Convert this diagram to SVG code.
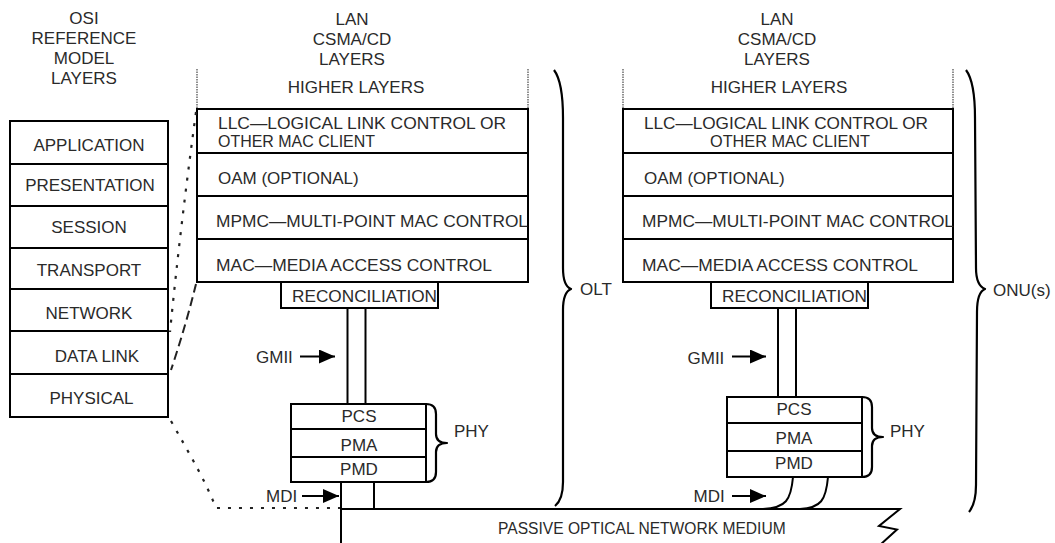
<svg xmlns="http://www.w3.org/2000/svg" width="1055" height="543" viewBox="0 0 1055 543">
  <defs>
    <style>
      text { font-family: "Liberation Sans", Arial, sans-serif; font-size: 17px; fill: #2a2a2a; }
      .mid { text-anchor: middle; }
      .two { font-size: 16px; }
      .box { fill: #ffffff; stroke: #000000; stroke-width: 2; }
      .wire { fill: none; stroke: #000000; stroke-width: 2; }
      .brace { fill: none; stroke: #000000; stroke-width: 2.2; stroke-linejoin: round; }
      .higher { fill: none; stroke: #555555; stroke-width: 1.3; stroke-dasharray: 1.5 1; }
      .dots { fill: none; stroke: #222222; stroke-width: 2.2; stroke-dasharray: 3 8; }
      .dashes { fill: none; stroke: #222222; stroke-width: 2; stroke-dasharray: 9 5; }
      .arrow { fill: none; stroke: #000000; stroke-width: 2; marker-end: url(#head); }
    </style>
    <marker id="head" viewBox="0 0 16 14" refX="16" refY="7" markerWidth="16" markerHeight="14" markerUnits="userSpaceOnUse" orient="auto">
      <path d="M0,0 L16,7 L0,14 z" fill="#000000"/>
    </marker>
  </defs>
  <rect x="0" y="0" width="1055" height="543" fill="#ffffff"/>

  <!-- OSI reference model column -->
  <g id="osi-title">
    <text class="mid" x="84" y="24">OSI</text>
    <text class="mid" x="84" y="44">REFERENCE</text>
    <text class="mid" x="84" y="64">MODEL</text>
    <text class="mid" x="84" y="84">LAYERS</text>
  </g>
  <g id="osi-application"><rect class="box" x="10" y="121" width="158" height="43"/><text class="mid" x="89" y="150.5">APPLICATION</text></g>
  <g id="osi-presentation"><rect class="box" x="10" y="164" width="158" height="42"/><text class="mid" x="90" y="191">PRESENTATION</text></g>
  <g id="osi-session"><rect class="box" x="10" y="206" width="158" height="42"/><text class="mid" x="89" y="233">SESSION</text></g>
  <g id="osi-transport"><rect class="box" x="10" y="248" width="158" height="41"/><text class="mid" x="89" y="276">TRANSPORT</text></g>
  <g id="osi-network"><rect class="box" x="10" y="289" width="158" height="42"/><text class="mid" x="89" y="319">NETWORK</text></g>
  <g id="osi-datalink"><rect class="box" x="10" y="331" width="158" height="43"/><text class="mid" x="97" y="361.5">DATA LINK</text></g>
  <g id="osi-physical"><rect class="box" x="10" y="374" width="158" height="43"/><text class="mid" x="91.5" y="404">PHYSICAL</text></g>

  <!-- OLT side: LAN CSMA/CD layers -->
  <g id="olt-title">
    <text class="mid" x="352" y="25">LAN</text>
    <text class="mid" x="352" y="44.5">CSMA/CD</text>
    <text class="mid" x="352" y="64.5">LAYERS</text>
  </g>
  <g id="olt-higher">
    <line class="higher" x1="197" y1="69" x2="197" y2="109"/>
    <line class="higher" x1="528" y1="69" x2="528" y2="109"/>
    <text class="mid" x="356" y="93">HIGHER LAYERS</text>
  </g>
  <g id="olt-llc"><rect class="box" x="197" y="109" width="331" height="44"/><text class="two" x="218" y="128.5" textLength="288" lengthAdjust="spacingAndGlyphs">LLC—LOGICAL LINK CONTROL OR</text><text class="two" x="218" y="147" textLength="157" lengthAdjust="spacingAndGlyphs">OTHER MAC CLIENT</text></g>
  <g id="olt-oam"><rect class="box" x="197" y="153" width="331" height="43"/><text x="218" y="184">OAM (OPTIONAL)</text></g>
  <g id="olt-mpmc"><rect class="box" x="197" y="196" width="331" height="43"/><text x="216" y="227" textLength="312" lengthAdjust="spacingAndGlyphs">MPMC—MULTI-POINT MAC CONTROL</text></g>
  <g id="olt-mac"><rect class="box" x="197" y="239" width="331" height="43"/><text x="216" y="270.5" textLength="276" lengthAdjust="spacingAndGlyphs">MAC—MEDIA ACCESS CONTROL</text></g>
  <g id="olt-reconciliation"><rect class="box" x="281" y="282" width="157" height="26"/><text x="292" y="301.5" textLength="145" lengthAdjust="spacingAndGlyphs">RECONCILIATION</text></g>
  <g id="olt-pcs"><rect class="box" x="291" y="404" width="135" height="25"/><text class="mid" x="359" y="422">PCS</text></g>
  <g id="olt-pma"><rect class="box" x="291" y="429" width="135" height="28"/><text class="mid" x="359" y="451">PMA</text></g>
  <g id="olt-pmd"><rect class="box" x="291" y="457" width="135" height="25"/><text class="mid" x="359" y="474.5">PMD</text></g>
  <g id="olt-phy-label">
    <path class="brace" d="M426,404 C433,404 436,407 436,414 L436,434 C436,440 440,443 447,443 C440,443 436,446 436,452 L436,472 C436,479 433,482 426,482"/>
    <text x="454" y="437">PHY</text>
  </g>
  <g id="olt-label">
    <path class="brace" d="M554,70 C560,78 563,95 563,118 L563,268 C563,280 566,287 571,289 C566,291 563,298 563,310 L563,482 C563,495 560,502 555,506"/>
    <text x="580" y="295">OLT</text>
  </g>
  <g id="olt-gmii-label"><text x="256" y="362.5">GMII</text></g>
  <g id="olt-mdi-label"><text x="266" y="502">MDI</text></g>

  <!-- ONU side: LAN CSMA/CD layers -->
  <g id="onu-title">
    <text class="mid" x="777" y="25">LAN</text>
    <text class="mid" x="777" y="44.5">CSMA/CD</text>
    <text class="mid" x="777" y="64.5">LAYERS</text>
  </g>
  <g id="onu-higher">
    <line class="higher" x1="623" y1="69" x2="623" y2="109"/>
    <line class="higher" x1="953" y1="69" x2="953" y2="109"/>
    <text class="mid" x="779" y="93">HIGHER LAYERS</text>
  </g>
  <g id="onu-llc"><rect class="box" x="623" y="109" width="330" height="44"/><text class="two" x="644" y="128.5" textLength="284" lengthAdjust="spacingAndGlyphs">LLC—LOGICAL LINK CONTROL OR</text><text class="two mid" x="790" y="147" textLength="160" lengthAdjust="spacingAndGlyphs">OTHER MAC CLIENT</text></g>
  <g id="onu-oam"><rect class="box" x="623" y="153" width="330" height="43"/><text x="644" y="184">OAM (OPTIONAL)</text></g>
  <g id="onu-mpmc"><rect class="box" x="623" y="196" width="330" height="43"/><text x="642" y="227" textLength="312" lengthAdjust="spacingAndGlyphs">MPMC—MULTI-POINT MAC CONTROL</text></g>
  <g id="onu-mac"><rect class="box" x="623" y="239" width="330" height="43"/><text x="642" y="270.5" textLength="276" lengthAdjust="spacingAndGlyphs">MAC—MEDIA ACCESS CONTROL</text></g>
  <g id="onu-reconciliation"><rect class="box" x="711" y="282" width="157" height="26"/><text x="722" y="301.5" textLength="145" lengthAdjust="spacingAndGlyphs">RECONCILIATION</text></g>
  <g id="onu-pcs"><rect class="box" x="727" y="397" width="135" height="26"/><text class="mid" x="794" y="415">PCS</text></g>
  <g id="onu-pma"><rect class="box" x="727" y="423" width="135" height="28"/><text class="mid" x="794" y="444">PMA</text></g>
  <g id="onu-pmd"><rect class="box" x="727" y="451" width="135" height="26"/><text class="mid" x="794" y="469">PMD</text></g>
  <g id="onu-phy-label">
    <path class="brace" d="M862,397 C869,397 872,400 872,407 L872,428 C872,434 876,437 883,437 C876,437 872,440 872,446 L872,467 C872,474 869,477 862,477"/>
    <text x="890" y="437">PHY</text>
  </g>
  <g id="onu-label">
    <path class="brace" d="M966,70 C972,78 975,95 975,118 L976,268 C976,280 980,287 985,289 C980,291 977,298 977,312 L976,485 C976,498 973,507 969,512"/>
    <text x="993" y="296">ONU(s)</text>
  </g>
  <g id="onu-gmii-label"><text x="687.5" y="363.5">GMII</text></g>
  <g id="onu-mdi-label"><text x="693.5" y="502">MDI</text></g>

  <!-- shared optical medium -->
  <g id="pon-medium">
    <path class="wire" d="M341,543 L341,509 L900,509 L879,526 L897,529.5 L880,545"/>
    <text x="498" y="534" style="font-size:15.6px">PASSIVE OPTICAL NETWORK MEDIUM</text>
  </g>

  <!-- connectors -->
  <g id="connectors">
    <!-- GMII bundles -->
    <line class="wire" x1="347.5" y1="308" x2="347.5" y2="404"/>
    <line class="wire" x1="365.5" y1="308" x2="365.5" y2="404"/>
    <line class="wire" x1="778" y1="308" x2="778" y2="397"/>
    <line class="wire" x1="796" y1="308" x2="796" y2="397"/>
    <!-- MDI drops -->
    <line class="wire" x1="341" y1="482" x2="341" y2="509"/>
    <line class="wire" x1="374" y1="482" x2="374" y2="509"/>
    <path class="wire" d="M793,477 C791,500 786,508 763,509"/>
    <path class="wire" d="M828,477 C826,500 821,508 800,509"/>
    <!-- interface pointers -->
    <line class="arrow" x1="300" y1="356.5" x2="335" y2="356.5"/>
    <line class="arrow" x1="302" y1="496" x2="339" y2="496"/>
    <line class="arrow" x1="732" y1="356.5" x2="766" y2="356.5"/>
    <line class="arrow" x1="732" y1="496" x2="766" y2="496"/>
    <!-- OSI to LAN layer mapping -->
    <path class="dots" d="M196,112 Q180,230 170,332"/>
    <path class="dashes" d="M196,284 Q186,325 171,370"/>
    <path class="dots" d="M171,421 C190,455 205,480 216,508 L340,508"/>
  </g>
</svg>
